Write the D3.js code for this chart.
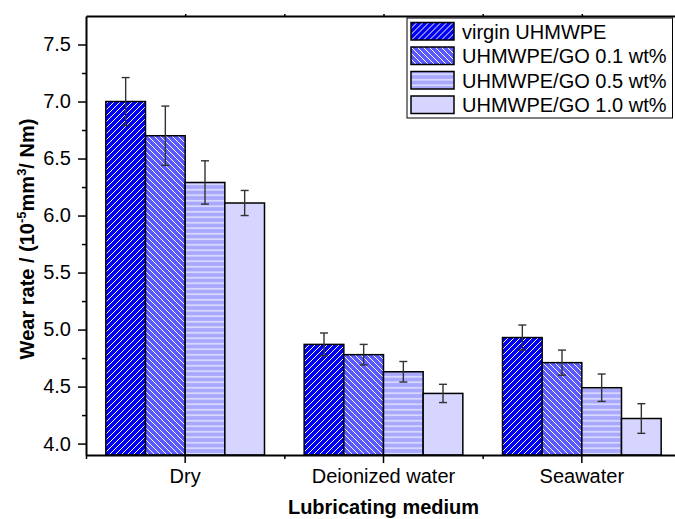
<!DOCTYPE html>
<html>
<head>
<meta charset="utf-8">
<script src="https://cdn.jsdelivr.net/npm/d3@7"></script>
<style>
  body { margin: 0; background: #fff; }
  text { font-family: "Liberation Sans", Arial, sans-serif; }
</style>
</head>
<body>
<script>
// data
const categories = ["Dry", "Deionized water", "Seawater"];
const seriesNames = ["virgin UHMWPE", "UHMWPE/GO 0.1 wt%", "UHMWPE/GO 0.5 wt%", "UHMWPE/GO 1.0 wt%"];
const virgin = [7.0, 4.87, 4.93];
const go01 = [6.70, 4.78, 4.71];
const go05 = [6.29, 4.63, 4.49];
const go10 = [6.11, 4.44, 4.22];
const virginErr = [0.21, 0.10, 0.11];
const go01Err = [0.26, 0.09, 0.11];
const go05Err = [0.19, 0.09, 0.12];
const go10Err = [0.11, 0.08, 0.13];
const yTicks = [4.0, 4.5, 5.0, 5.5, 6.0, 6.5, 7.0, 7.5];

const W = 675, H = 519;
const pL = 86, pT = 16, pB = 455, pR = 681; // plot runs past the right edge

const series = [
  { name: seriesNames[0], vals: virgin, err: virginErr, fill: "url(#hatchUp)" },
  { name: seriesNames[1], vals: go01, err: go01Err, fill: "url(#hatchDown)" },
  { name: seriesNames[2], vals: go05, err: go05Err, fill: "url(#hatchHoriz)" },
  { name: seriesNames[3], vals: go10, err: go10Err, fill: "#d5d5ff" }
];

let svg = d3.select("body").append("svg")
  .attr("width", W)
  .attr("height", H);

// patterns
const defs = svg.append("defs");
const makePattern = (id, bg, d, size) => {
  let p = defs.append("pattern")
    .attr("id", id)
    .attr("patternUnits", "userSpaceOnUse")
    .attr("width", size)
    .attr("height", size);
  p.append("rect").attr("width", size).attr("height", size).attr("fill", bg);
  p.append("path").attr("d", d).attr("stroke", "#fff").attr("stroke-width", 1).attr("fill", "none");
};
const s = 6;
const up = `M0,${s} L${s},0 M-1,1 L1,-1 M${s - 1},${s + 1} L${s + 1},${s - 1}`;
const down = `M0,0 L${s},${s} M-1,${s - 1} L1,${s + 1} M${s - 1},-1 L${s + 1},1`;
const hs = 5.5;
const horiz = `M0,${hs / 2} L${hs},${hs / 2}`;
makePattern("hatchUp", "#0000f5", up, s);
makePattern("hatchDown", "#5a5aff", down, s);
makePattern("hatchHoriz", "#a8a8ff", horiz, hs);

// scales
const x = d3.scaleBand().domain(categories).range([pL, pR]).padding(0);
const xs = d3.scaleBand().domain(d3.range(series.length))
  .range([0.1 * x.bandwidth(), 0.9 * x.bandwidth()]);
const y = d3.scaleLinear().domain([3.9, 7.75]).range([pB, pT]);

// bars
const groups = svg.selectAll(".series")
  .data(series)
  .enter()
  .append("g")
  .attr("class", "series");

groups.selectAll("rect")
  .data((d, i) => d.vals.map((v, j) => ({ v, e: d.err[j], c: categories[j], i, fill: d.fill })))
  .enter()
  .append("rect")
  .attr("x", d => x(d.c) + xs(d.i))
  .attr("y", d => y(d.v))
  .attr("width", xs.bandwidth())
  .attr("height", d => y(3.9) - y(d.v))
  .attr("fill", d => d.fill)
  .attr("stroke", "#000")
  .attr("stroke-width", 1.5);

// error bars
const errs = groups.selectAll(".err")
  .data((d, i) => d.vals.map((v, j) => ({ v, e: d.err[j], c: categories[j], i })))
  .enter()
  .append("g")
  .attr("class", "err")
  .attr("stroke", "#333")
  .attr("stroke-width", 1.4);
const cx = d => x(d.c) + xs(d.i) + xs.bandwidth() / 2;
errs.append("line")
  .attr("x1", cx).attr("x2", cx)
  .attr("y1", d => y(d.v + d.e)).attr("y2", d => y(d.v - d.e));
errs.append("line")
  .attr("x1", d => cx(d) - 4).attr("x2", d => cx(d) + 4)
  .attr("y1", d => y(d.v + d.e)).attr("y2", d => y(d.v + d.e));
errs.append("line")
  .attr("x1", d => cx(d) - 4).attr("x2", d => cx(d) + 4)
  .attr("y1", d => y(d.v - d.e)).attr("y2", d => y(d.v - d.e));

// axes
const xMinor = d3.scaleLinear().domain([0, 3]).range([pL, pR]);

svg.append("g")
  .attr("transform", `translate(${pL},0)`)
  .call(d3.axisLeft(y).tickValues(d3.range(4.25, 7.75, 0.5)).tickSize(4).tickFormat("").tickSizeOuter(0))
  .call(g => g.select(".domain").remove());

svg.append("g")
  .attr("class", "yaxis")
  .attr("transform", `translate(${pL},0)`)
  .call(d3.axisLeft(y).tickValues(yTicks).tickFormat(d3.format(".1f")).tickSize(8).tickPadding(7).tickSizeOuter(0));

svg.append("g")
  .attr("transform", `translate(0,${pB})`)
  .call(d3.axisBottom(xMinor).tickValues([0, 1, 2, 3]).tickSize(4).tickFormat("").tickSizeOuter(0))
  .call(g => g.select(".domain").remove());

svg.append("g")
  .attr("class", "xaxis")
  .attr("transform", `translate(0,${pB})`)
  .call(d3.axisBottom(x).tickSize(8).tickPadding(5.5).tickSizeOuter(0));

// top border with small ticks
svg.append("g")
  .attr("transform", `translate(0,${pT})`)
  .call(d3.axisTop(xMinor).tickValues([0.5, 1, 1.5, 2, 2.5]).tickSize(2).tickFormat("").tickSizeOuter(0));

svg.selectAll(".domain, .tick line").attr("stroke", "#000").attr("stroke-width", 1.5);
svg.selectAll(".domain").attr("stroke-width", 2);
svg.selectAll(".yaxis text, .xaxis text")
  .attr("font-size", 20)
  .attr("fill", "#000")
  .style("font-family", "Liberation Sans, Arial, sans-serif");

// axis titles
svg.append("text")
  .attr("x", (pL + pR) / 2)
  .attr("y", 514)
  .attr("text-anchor", "middle")
  .attr("font-size", 20)
  .attr("font-weight", "bold")
  .text("Lubricating medium");

const yt = svg.append("text")
  .attr("transform", "translate(34,239) rotate(-90)")
  .attr("text-anchor", "middle")
  .attr("font-size", 20)
  .attr("font-weight", "bold");
yt.append("tspan").text("Wear rate / (10");
yt.append("tspan").attr("font-size", 13).attr("dy", -8).text("-5");
yt.append("tspan").attr("dy", 8).text("mm");
yt.append("tspan").attr("font-size", 13).attr("dy", -8).text("3");
yt.append("tspan").attr("dy", 8).text("/ Nm)");

// legend
const legend = svg.append("g").attr("class", "legend");
legend.append("rect")
  .attr("x", 407).attr("y", 18)
  .attr("width", 265.5).attr("height", 100)
  .attr("fill", "#fff")
  .attr("stroke", "#000")
  .attr("stroke-width", 1);
const rows = legend.selectAll(".row")
  .data(series)
  .enter()
  .append("g")
  .attr("class", "row")
  .attr("transform", (d, i) => `translate(411,${22.5 + i * 24.5})`);
rows.append("rect")
  .attr("width", 43)
  .attr("height", 17.5)
  .attr("fill", d => d.fill)
  .attr("stroke", "#000")
  .attr("stroke-width", 1.5);
rows.append("text")
  .attr("x", 51)
  .attr("y", 16)
  .attr("font-size", 20)
  .text(d => d.name);
</script>
</body>
</html>
